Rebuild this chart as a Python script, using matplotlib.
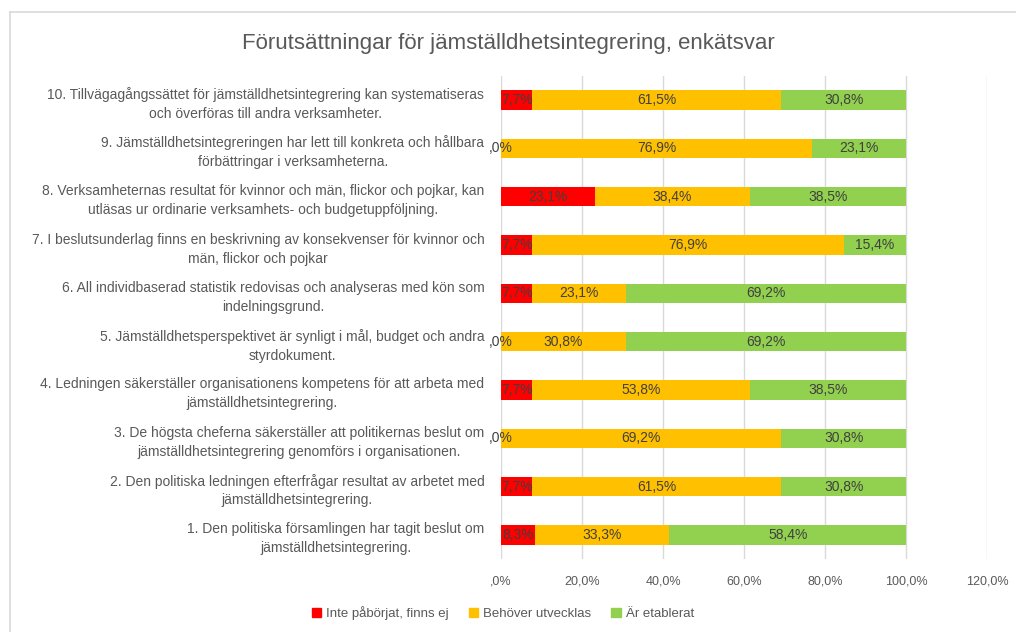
import matplotlib
matplotlib.use("Agg")
import matplotlib.pyplot as plt
from matplotlib.lines import Line2D
from matplotlib.patches import Patch
import numpy as np

categories = [
    "10. Tillvägagångssättet för jämställdhetsintegrering kan systematiseras\noch överföras till andra verksamheter.",
    "9. Jämställdhetsintegreringen har lett till konkreta och hållbara\nförbättringar i verksamheterna.",
    "8. Verksamheternas resultat för kvinnor och män, flickor och pojkar, kan\nutläsas ur ordinarie verksamhets- och budgetuppföljning.",
    "7. I beslutsunderlag finns en beskrivning av konsekvenser för kvinnor och\nmän, flickor och pojkar",
    "6. All individbaserad statistik redovisas och analyseras med kön som\nindelningsgrund.",
    "5. Jämställdhetsperspektivet är synligt i mål, budget och andra\nstyrdokument.",
    "4. Ledningen säkerställer organisationens kompetens för att arbeta med\njämställdhetsintegrering.",
    "3. De högsta cheferna säkerställer att politikernas beslut om\njämställdhetsintegrering genomförs i organisationen.",
    "2. Den politiska ledningen efterfrågar resultat av arbetet med\njämställdhetsintegrering.",
    "1. Den politiska församlingen har tagit beslut om\njämställdhetsintegrering.",
]
inte_paborjat = [7.7, 0.0, 23.1, 7.7, 7.7, 0.0, 7.7, 0.0, 7.7, 8.3]
behover_utvecklas = [61.5, 76.9, 38.4, 76.9, 23.1, 30.8, 53.8, 69.2, 61.5, 33.3]
ar_etablerat = [30.8, 23.1, 38.5, 15.4, 69.2, 69.2, 38.5, 30.8, 30.8, 58.4]
series_names = ["Inte påbörjat, finns ej", "Behöver utvecklas", "Är etablerat"]
colors = ["#FF0000", "#FFC000", "#92D050"]
xticks = [0, 20, 40, 60, 80, 100, 120]
xtick_labels = [",0%", "20,0%", "40,0%", "60,0%", "80,0%", "100,0%", "120,0%"]
title = "Förutsättningar för jämställdhetsintegrering, enkätsvar"

def fmt(v):
    if v == 0:
        return ",0%"
    return f"{v:.1f}".replace(".", ",") + "%"

plt.rcParams['font.family'] = ['Liberation Sans', 'DejaVu Sans']
fig = plt.figure(figsize=(10.16, 6.32), dpi=100)
ax = fig.add_axes([501/1016, 1-559/632, (987-501)/1016, (559-76)/632])

n = len(categories)
y = np.arange(n)[::-1]
left = np.zeros(n)
for vals, name, c in zip([inte_paborjat, behover_utvecklas, ar_etablerat], series_names, colors):
    vals = np.array(vals)
    ax.barh(y, vals, left=left, height=0.4, color=c, label=name, zorder=3)
    for yi, l, v in zip(y, left, vals):
        ax.text(l + v/2, yi, fmt(v), ha='center', va='center', fontsize=10, color='#404040', zorder=4)
    left = left + vals

ax.set_xlim(0, 120)
ax.set_ylim(-0.5, n - 0.5)
ax.set_xticks(xticks)
ax.set_xticklabels(xtick_labels, color='#595959', fontsize=9)
ax.set_yticks(y)
ax.set_yticklabels(categories, fontsize=10, color='#595959', multialignment='center', linespacing=1.45)
ax.tick_params(axis='both', length=0)
ax.tick_params(axis='y', pad=12)
ax.tick_params(axis='x', pad=12)
ax.grid(axis='x', color='#D9D9D9', linewidth=1, zorder=0)
for s in ax.spines.values():
    s.set_visible(False)

fig.text(508/1016, 1-44/632, title, ha='center', va='center', fontsize=16, color='#595959')

handles = [Patch(color=c) for c in colors]
fig.legend(handles, series_names, loc='center', bbox_to_anchor=(503/1016, 1-613/632),
           ncol=3, frameon=False, fontsize=9.5, labelcolor='#595959',
           handlelength=0.7, handleheight=0.7, handletextpad=0.4, columnspacing=1.5)

fig.add_artist(Line2D([10/1016, 10/1016], [0, 1-12/632], transform=fig.transFigure, color='#D9D9D9', linewidth=1.2))
fig.add_artist(Line2D([10/1016, 1], [1-12/632, 1-12/632], transform=fig.transFigure, color='#D9D9D9', linewidth=1.2))

fig.savefig("out.png", dpi=100)
